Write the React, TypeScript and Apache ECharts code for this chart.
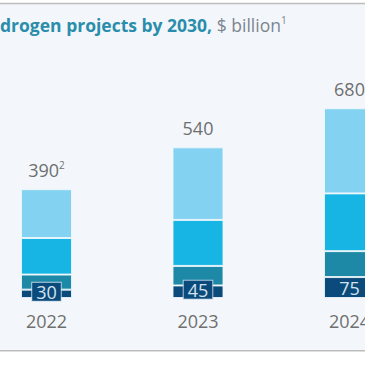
import React, { useEffect, useRef } from "react";
import * as echarts from "echarts";

const categories = ["2022", "2023", "2024"];
const navyValues = [30, 45, 75];
const tealValues = [54, 70, 93];
const midValues = [131, 165, 207];
const lightValues = [175, 260, 305];
const totals = [390, 540, 680];
const totalNotes = ["2", "", ""];
const boxedNavyLabel = [true, true, false];

const titleBold = "drogen projects by 2030,";
const titleUnit = "$ billion";
const titleNote = "1";

const FONT = "Open Sans";

export default function App() {
  const ref = useRef<HTMLDivElement>(null);
  useEffect(() => {
    if (!ref.current) return;
    const chart = echarts.init(ref.current, null, { renderer: "svg" });
    const barBorder = { borderColor: "rgba(240,248,252,0.85)", borderWidth: 1 };
    chart.setOption({
      animation: false,
      backgroundColor: "#ffffff",
      textStyle: { fontFamily: FONT },
      title: {
        left: 0,
        top: 15,
        padding: 0,
        text: `{b|${titleBold}} {g|${titleUnit}}{s|${titleNote}}`,
        textStyle: {
          rich: {
            b: { fontFamily: FONT, fontSize: 17.5, fontWeight: "bold", color: "#2a8dab", lineHeight: 20 },
            g: { fontFamily: FONT, fontSize: 17.5, fontWeight: "normal", color: "#7b858f", lineHeight: 20 },
            s: { fontFamily: FONT, fontSize: 10, fontWeight: "normal", color: "#7b858f", verticalAlign: "top", lineHeight: 20 },
          },
        },
      },
      graphic: [
        { type: "rect", z: -10, silent: true, shape: { x: 0, y: 4, width: 365, height: 346 }, style: { fill: "#f3f7fb" } },
        { type: "line", z: -5, silent: true, shape: { x1: 0, y1: 3.5, x2: 365, y2: 3.5 }, style: { stroke: "#bdbdbd", lineWidth: 1.5 } },
        { type: "line", z: -5, silent: true, shape: { x1: 0, y1: 350.8, x2: 365, y2: 350.8 }, style: { stroke: "#bdbdbd", lineWidth: 1.5 } },
      ],
      grid: { left: -29.25, width: 454.5, top: 102.7, height: 195.3, containLabel: false, outerBoundsMode: "none" },
      xAxis: {
        type: "category",
        data: categories,
        axisLine: { show: false },
        axisTick: { show: false },
        axisLabel: { color: "#6f6f6f", fontSize: 18, fontFamily: FONT, margin: 14 },
      },
      yAxis: { type: "value", min: 0, max: 700, show: false, splitLine: { show: false } },
      series: [
        {
          type: "bar",
          stack: "t",
          barWidth: 51,
          itemStyle: { color: "#0b4b7b", ...barBorder },
          data: navyValues.map((v, i) => ({
            value: v,
            label: boxedNavyLabel[i]
              ? {
                  show: true,
                  position: "inside",
                  offset: [0, -2],
                  color: "#d3e2ee",
                  fontSize: 18,
                  fontFamily: FONT,
                  backgroundColor: "#0b4b7b",
                  borderColor: "rgba(200,220,235,0.85)",
                  borderWidth: 1,
                  padding: [0, 4, 0, 4],
                  formatter: String(v),
                }
              : {
                  show: true,
                  position: "inside",
                  color: "#d3e2ee",
                  fontSize: 18,
                  fontFamily: FONT,
                  formatter: String(v),
                },
          })),
        },
        { type: "bar", stack: "t", barWidth: 51, itemStyle: { color: "#1e89a6", ...barBorder }, data: tealValues },
        { type: "bar", stack: "t", barWidth: 51, itemStyle: { color: "#17b5e4", ...barBorder }, data: midValues },
        {
          type: "bar",
          stack: "t",
          barWidth: 51,
          itemStyle: { color: "#83d2f1", ...barBorder },
          data: lightValues,
          label: {
            show: true,
            position: "top",
            distance: 9,
            formatter: (p: any) =>
              `{v|${totals[p.dataIndex]}}` + (totalNotes[p.dataIndex] ? `{s|${totalNotes[p.dataIndex]}}` : ""),
            rich: {
              v: { fontFamily: FONT, fontSize: 18, color: "#6f6f6f", lineHeight: 20 },
              s: { fontFamily: FONT, fontSize: 10, color: "#6f6f6f", verticalAlign: "top", lineHeight: 20 },
            },
          },
        },
      ],
    });
    return () => chart.dispose();
  }, []);
  return (
    <div
      ref={ref}
      style={{ position: "fixed", left: 0, top: 0, width: 365, height: 365 }}
    />
  );
}
